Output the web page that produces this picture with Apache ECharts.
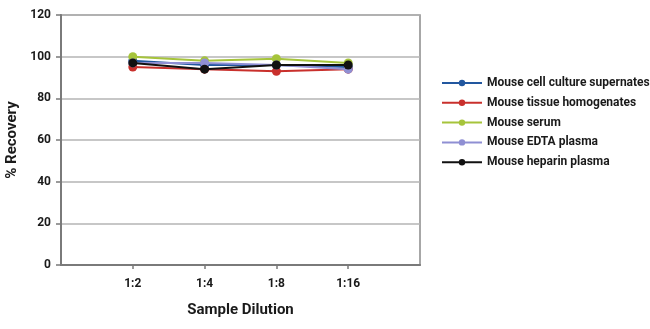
<!DOCTYPE html>
<html>
<head>
<meta charset="utf-8">
<script src="https://cdn.jsdelivr.net/npm/echarts@6/dist/echarts.min.js"></script>
<style>
  html, body { margin: 0; padding: 0; background: #fff; }
  #chart { width: 650px; height: 329px; }
</style>
</head>
<body>
<div id="chart"></div>
<script>
// Dilution steps; blank slots pad the axis on both ends
const categories = ['', '1:2', '1:4', '1:8', '1:16', ''];
const yTicks = [0, 20, 40, 60, 80, 100, 120];

// % recovery per dilution (1:2, 1:4, 1:8, 1:16)
const supernates = [98, 96, 96, 95];
const tissue = [95, 94, 93, 94];
const serum = [100, 98, 99, 97];
const edta = [97, 97, 96, 94];
const heparin = [97, 94, 96, 96];

const names = [
  'Mouse cell culture supernates',
  'Mouse tissue homogenates',
  'Mouse serum',
  'Mouse EDTA plasma',
  'Mouse heparin plasma'
];
const colors = ['#22579f', '#c9302c', '#a6c43b', '#8f8fd3', '#111111'];
const values = [supernates, tissue, serum, edta, heparin];

const font = 'Roboto, sans-serif';
const weight = 'bold';

const chart = echarts.init(document.getElementById('chart'));
chart.setOption({
  animation: false,
  grid: {
    left: 61, top: 15, right: 230, bottom: 64,
    outerBoundsMode: 'none',
    containLabel: false,
    show: true, borderColor: '#8a8a8a', borderWidth: 1.5, backgroundColor: 'transparent'
  },
  legend: {
    orient: 'vertical',
    left: 436, top: 72,
    itemWidth: 40, itemHeight: 8, itemGap: 7.8,
    data: names,
    textStyle: { fontFamily: font, fontWeight: weight, fontSize: 12, color: '#1a1a1a' }
  },
  xAxis: {
    type: 'category',
    data: categories,
    boundaryGap: false,
    name: 'Sample Dilution',
    nameLocation: 'middle',
    nameGap: 38,
    nameTextStyle: { fontFamily: font, fontWeight: weight, fontSize: 15, color: '#1a1a1a' },
    axisLine: { lineStyle: { color: '#7a7a7a', width: 2 } },
    axisTick: {
      length: 4,
      interval: (i, v) => v !== '',
      lineStyle: { color: '#7a7a7a', width: 1.5 }
    },
    axisLabel: { interval: 0, margin: 13, fontFamily: font, fontWeight: weight, fontSize: 12, color: '#1a1a1a' },
    splitLine: { show: false }
  },
  yAxis: {
    type: 'value',
    min: yTicks[0], max: yTicks[yTicks.length - 1], interval: 20,
    name: '% Recovery',
    nameLocation: 'middle',
    nameGap: 26,
    nameTextStyle: { fontFamily: font, fontWeight: weight, fontSize: 15, color: '#1a1a1a' },
    axisLine: { show: true, lineStyle: { color: '#7a7a7a', width: 2 } },
    axisTick: { show: true, length: 5, lineStyle: { color: '#7a7a7a', width: 1.5 } },
    axisLabel: { margin: 10, fontFamily: font, fontWeight: weight, fontSize: 12, color: '#1a1a1a' },
    splitLine: { lineStyle: { color: '#b4b4b4', width: 1.5 } }
  },
  series: names.map((n, k) => ({
    name: n,
    type: 'line',
    data: [null].concat(values[k], [null]),
    color: colors[k],
    symbol: 'circle',
    symbolSize: 9,
    lineStyle: { width: 2, color: colors[k] },
    itemStyle: { color: colors[k] },
    z: 2 + k
  }))
});
</script>
</body>
</html>
